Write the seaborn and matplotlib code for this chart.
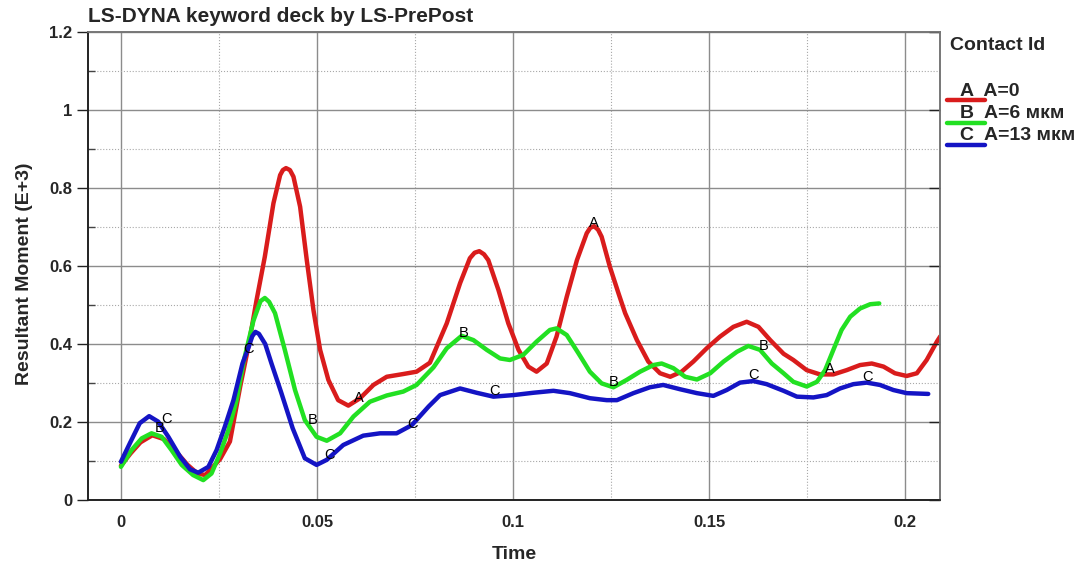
import numpy as np
import pandas as pd
import seaborn as sns
import matplotlib.pyplot as plt
from matplotlib.lines import Line2D
from matplotlib.ticker import MultipleLocator, FuncFormatter

sns.set_style('white')
plt.rcParams['font.family'] = ['Liberation Sans', 'DejaVu Sans']

# Curva A (A=0)
t_a = [0.0, 0.0025, 0.005, 0.008, 0.011, 0.014, 0.017, 0.0195, 0.0215, 0.0253, 0.0278, 0.0304,
       0.0325, 0.0346, 0.0367, 0.0389, 0.0406, 0.0413, 0.0421, 0.0431, 0.0440, 0.0457, 0.0474,
       0.0491, 0.0508, 0.0529, 0.0554, 0.0580, 0.0610, 0.0644, 0.0678, 0.0720, 0.0754, 0.0788,
       0.0831, 0.0865, 0.0890, 0.0902, 0.0914, 0.0926, 0.0937, 0.0963, 0.0988, 0.1014, 0.1039,
       0.1060, 0.1086, 0.1111, 0.1137, 0.1163, 0.1188, 0.1197, 0.1207, 0.1217, 0.1226, 0.1247,
       0.1269, 0.1286, 0.1316, 0.1345, 0.1375, 0.1401, 0.1430, 0.1460, 0.1494, 0.1528, 0.1562,
       0.1596, 0.1626, 0.1656, 0.1690, 0.1715, 0.1749, 0.1783, 0.1817, 0.1851, 0.1885, 0.1915,
       0.1945, 0.1974, 0.2004, 0.2030, 0.2055, 0.2081, 0.2090]
v_a = [0.088, 0.12, 0.148, 0.166, 0.156, 0.125, 0.09, 0.068, 0.064, 0.105, 0.150, 0.290,
       0.393, 0.513, 0.624, 0.761, 0.833, 0.846, 0.851, 0.846, 0.829, 0.752, 0.615,
       0.487, 0.385, 0.308, 0.256, 0.242, 0.261, 0.295, 0.316, 0.323, 0.329, 0.352,
       0.453, 0.556, 0.620, 0.634, 0.638, 0.630, 0.615, 0.538, 0.453, 0.385, 0.342,
       0.329, 0.350, 0.419, 0.521, 0.615, 0.684, 0.698, 0.702, 0.693, 0.675, 0.598,
       0.530, 0.479, 0.410, 0.355, 0.325, 0.316, 0.329, 0.355, 0.389, 0.419, 0.444,
       0.457, 0.444, 0.410, 0.375, 0.359, 0.333, 0.322, 0.322, 0.333, 0.346, 0.350,
       0.342, 0.325, 0.318, 0.325, 0.359, 0.406, 0.420]

# Curva B (A=6 мкм)
t_b = [0.0, 0.0027, 0.0053, 0.0078, 0.0104, 0.0129, 0.0155, 0.0184, 0.0210, 0.0231, 0.0253,
       0.0274, 0.0295, 0.0314, 0.0338, 0.0356, 0.0367, 0.0378, 0.0393, 0.0418, 0.0444, 0.0469,
       0.0499, 0.0525, 0.0559, 0.0593, 0.0635, 0.0678, 0.0720, 0.0754, 0.0797, 0.0831, 0.0869,
       0.0899, 0.0933, 0.0967, 0.0992, 0.1026, 0.1060, 0.1094, 0.1111, 0.1137, 0.1167, 0.1196,
       0.1226, 0.1256, 0.1290, 0.1324, 0.1358, 0.1379, 0.1409, 0.1439, 0.1469, 0.1503, 0.1537,
       0.1571, 0.1600, 0.1630, 0.1660, 0.1690, 0.1715, 0.1749, 0.1775, 0.1796, 0.1817, 0.1838,
       0.1860, 0.1885, 0.1911, 0.1934]
v_b = [0.085, 0.128, 0.158, 0.171, 0.162, 0.128, 0.090, 0.064, 0.051, 0.068, 0.120,
       0.179, 0.256, 0.360, 0.460, 0.510, 0.518, 0.508, 0.479, 0.385, 0.282, 0.205,
       0.162, 0.152, 0.171, 0.214, 0.252, 0.268, 0.278, 0.295, 0.340, 0.389, 0.421,
       0.410, 0.385, 0.363, 0.359, 0.372, 0.406, 0.436, 0.440, 0.423, 0.376, 0.329,
       0.299, 0.289, 0.308, 0.329, 0.346, 0.350, 0.338, 0.316, 0.309, 0.325, 0.355,
       0.380, 0.395, 0.385, 0.350, 0.325, 0.303, 0.291, 0.303, 0.333, 0.385, 0.436,
       0.470, 0.491, 0.502, 0.504]

# Curva C (A=13 мкм)
t_c = [0.0, 0.0023, 0.0048, 0.0072, 0.0095, 0.0121, 0.0151, 0.0176, 0.0197, 0.0223, 0.0244,
       0.0265, 0.0287, 0.0310, 0.0326, 0.0335, 0.0343, 0.0352, 0.0368, 0.0384, 0.0408, 0.0438,
       0.0469, 0.0499, 0.0525, 0.0567, 0.0618, 0.0661, 0.0703, 0.0742, 0.0785, 0.0814, 0.0865,
       0.0907, 0.0950, 0.1001, 0.1052, 0.1103, 0.1145, 0.1196, 0.1239, 0.1265, 0.1307, 0.1349,
       0.1383, 0.1426, 0.1469, 0.1511, 0.1545, 0.1579, 0.1613, 0.1647, 0.1690, 0.1724, 0.1766,
       0.1800, 0.1834, 0.1868, 0.1902, 0.1936, 0.1970, 0.2004, 0.2059]
v_c = [0.098, 0.146, 0.197, 0.215, 0.201, 0.162, 0.111, 0.079, 0.070, 0.085, 0.128,
       0.188, 0.256, 0.350, 0.393, 0.420, 0.431, 0.426, 0.400, 0.350, 0.278, 0.184,
       0.107, 0.090, 0.103, 0.141, 0.165, 0.171, 0.171, 0.192, 0.240, 0.269, 0.286,
       0.275, 0.265, 0.269, 0.275, 0.280, 0.274, 0.261, 0.256, 0.256, 0.274, 0.289,
       0.295, 0.284, 0.274, 0.267, 0.282, 0.301, 0.305, 0.297, 0.280, 0.265, 0.263,
       0.269, 0.286, 0.297, 0.301, 0.295, 0.282, 0.274, 0.272]

# Letras sobre las curvas
lab_a_t = [0.0608, 0.1207, 0.1807]
lab_a_v = [0.262, 0.709, 0.335]
lab_b_t = [0.0099, 0.0489, 0.0873, 0.1256, 0.1639]
lab_b_v = [0.184, 0.205, 0.429, 0.302, 0.396]
lab_c_t = [0.0115, 0.0325, 0.0533, 0.0744, 0.0954, 0.1613, 0.1904]
lab_c_v = [0.207, 0.386, 0.115, 0.195, 0.280, 0.321, 0.316]

series = ['A', 'B', 'C']
leyenda = ['A=0', 'A=6 мкм', 'A=13 мкм']
colores = ['#d91c1c', '#22e022', '#1414c4']

df = pd.concat([
    pd.DataFrame({'Time': t_a, 'Moment': v_a, 'id': 'A'}),
    pd.DataFrame({'Time': t_b, 'Moment': v_b, 'id': 'B'}),
    pd.DataFrame({'Time': t_c, 'Moment': v_c, 'id': 'C'}),
])

fig = plt.figure(figsize=(10.83, 5.64), dpi=100)
ax = fig.add_axes([88 / 1083, 64 / 564, 852 / 1083, 468 / 564])

for s, col in zip(series, colores):
    sub = df[df['id'] == s]
    sns.lineplot(data=sub, x='Time', y='Moment', color=col, lw=3.2, sort=False,
                 ax=ax, solid_joinstyle='round', solid_capstyle='round')

for letra, ts, vs in [('A', lab_a_t, lab_a_v), ('B', lab_b_t, lab_b_v), ('C', lab_c_t, lab_c_v)]:
    for tt, vv in zip(ts, vs):
        ax.text(tt, vv, letra, fontsize=10.5, ha='center', va='center', color='black')

ax.set_xlim(-0.0084, 0.2089)
ax.set_ylim(0, 1.2)
ax.xaxis.set_major_locator(MultipleLocator(0.05))
ax.xaxis.set_minor_locator(MultipleLocator(0.025))
ax.yaxis.set_major_locator(MultipleLocator(0.2))
ax.yaxis.set_minor_locator(MultipleLocator(0.1))
fmt = FuncFormatter(lambda v, p: '%g' % round(v, 3))
ax.xaxis.set_major_formatter(fmt)
ax.yaxis.set_major_formatter(fmt)

ax.grid(which='major', color='#8c8c8c', lw=1.0, ls='-')
ax.grid(which='minor', color='#a8a8a8', lw=0.8, ls=':')
ax.set_axisbelow(True)

ax.tick_params(axis='x', which='major', direction='inout', length=18, width=1, color='#222222',
               labelsize=12, pad=2)
ax.tick_params(axis='x', which='minor', direction='in', length=9, width=1, color='#444444')
ax.tick_params(axis='y', which='major', direction='out', length=8, width=1, color='#222222',
               labelsize=12)
ax.tick_params(axis='y', which='minor', direction='in', length=5, width=1, color='#444444')
for lbl in ax.get_xticklabels() + ax.get_yticklabels():
    lbl.set_fontweight('bold')

# marcas interiores en el lado derecho
ax2 = ax.twinx()
ax2.set_ylim(ax.get_ylim())
ax2.yaxis.set_major_locator(MultipleLocator(0.2))
ax2.tick_params(axis='y', which='major', direction='in', length=8, width=1, color='#222222',
                labelright=False)
ax2.grid(False)

for a in (ax, ax2):
    for side in ['left', 'bottom']:
        a.spines[side].set_color('#222222')
        a.spines[side].set_linewidth(1.2)
    for side in ['right', 'top']:
        a.spines[side].set_color('#777777')
        a.spines[side].set_linewidth(1.2)

ax.set_xlabel('Time', fontsize=14, fontweight='bold', labelpad=11)
ax.set_ylabel('Resultant Moment (E+3)', fontsize=14, fontweight='bold')
ax.yaxis.set_label_coords(-0.064, 0.483)

fig.text(88 / 1083, 1 - 16 / 564, 'LS-DYNA keyword deck by LS-PrePost', fontsize=15,
         fontweight='bold', ha='left', va='center')

# Leyenda manual
fig.text(950 / 1083, 1 - 45 / 564, 'Contact Id', fontsize=14, fontweight='bold',
         ha='left', va='center')
for i, (s, lab, col) in enumerate(zip(series, leyenda, colores)):
    yy = 1 - (100 + i * 22.5) / 564
    fig.add_artist(Line2D([947 / 1083, 985 / 1083], [yy, yy], color=col, lw=3.2,
                          transform=fig.transFigure))
    fig.text(960 / 1083, yy + 0.5 / 564, s + '  ' + lab, fontsize=14, fontweight='bold',
             ha='left', va='bottom')

plt.savefig('out.png', dpi=100)
